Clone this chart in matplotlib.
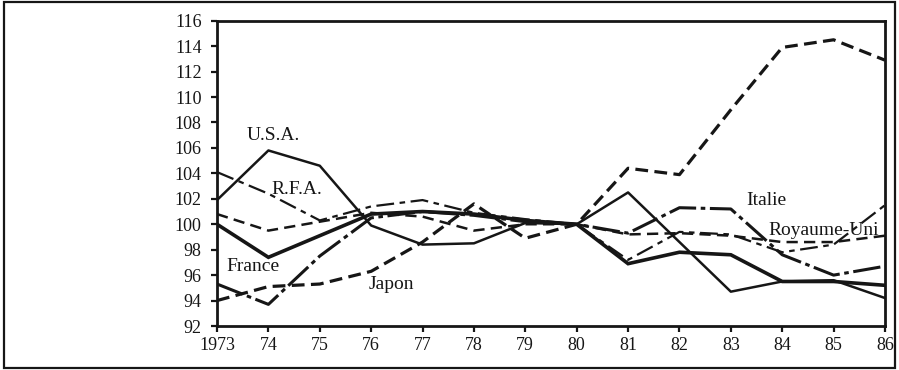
import matplotlib
matplotlib.use('Agg')
import matplotlib.pyplot as plt
from matplotlib.patches import Rectangle

# Indices (base 1980 = 100)
years = list(range(1973, 1987))
year_labels = ['1973', '74', '75', '76', '77', '78', '79', '80',
               '81', '82', '83', '84', '85', '86']

france = [100.0, 97.4, 99.1, 100.8, 101.0, 100.8, 100.3, 100.0, 96.9, 97.8, 97.6, 95.5, 95.5, 95.2]
usa = [101.9, 105.8, 104.6, 99.9, 98.4, 98.5, 100.1, 100.0, 102.5, 98.6, 94.7, 95.5, 95.6, 94.2]
japon = [94.0, 95.1, 95.3, 96.3, 98.6, 101.6, 98.9, 100.0, 104.4, 103.9, 109.0, 113.9, 114.5, 112.9]
rfa = [104.1, 102.4, 100.3, 101.4, 101.9, 100.9, 100.4, 100.0, 97.2, 99.4, 99.2, 97.8, 98.4, 101.5]
italie = [95.3, 93.7, 97.5, 100.5, 101.0, 100.7, 100.2, 100.0, 99.3, 101.3, 101.2, 97.6, 96.0, 96.7]
royaume_uni = [100.8, 99.5, 100.2, 100.9, 100.6, 99.5, 100.0, 100.0, 99.2, 99.3, 99.1, 98.6, 98.6, 99.1]

y_ticks = list(range(92, 117, 2))

ink = '#161616'
plt.rcParams['font.family'] = ['Liberation Serif', 'DejaVu Serif']

fig = plt.figure(figsize=(8.99, 3.70), dpi=100)
ax = fig.add_axes([0.2414, 0.1189, 0.7430, 0.8251])

ax.plot(years, france, color=ink, lw=2.6, solid_joinstyle='miter')
ax.plot(years, usa, color=ink, lw=1.8)
ax.plot(years, japon, color=ink, lw=2.3, dashes=(4, 2))
ax.plot(years, rfa, color=ink, lw=1.6, dashes=(8, 2.5, 2.5, 2.5))
ax.plot(years, italie, color=ink, lw=2.2, dashes=(9, 1.5, 1.5, 1.5))
ax.plot(years, royaume_uni, color=ink, lw=1.8, dashes=(4.5, 2.5))

# country labels placed beside their curves
lab = dict(fontsize=14, color=ink, ha='center', va='center')
ax.text(1974.1, 107.0, 'U.S.A.', **lab)
ax.text(1974.55, 102.7, 'R.F.A.', **lab)
ax.text(1973.7, 96.7, 'France', **lab)
ax.text(1976.4, 95.3, 'Japon', **lab)
ax.text(1983.7, 101.9, 'Italie', **lab)
ax.text(1984.8, 99.5, 'Royaume-Uni', **lab)

ax.set_xlim(1973, 1986)
ax.set_ylim(92, 116)
ax.set_xticks(years)
ax.set_xticklabels(year_labels)
ax.set_yticks(y_ticks)
ax.tick_params(axis='both', direction='out', length=4, width=1.6,
               colors=ink, labelsize=13)
ax.tick_params(axis='y', pad=7)
ax.tick_params(axis='x', pad=4)
for side in ax.spines.values():
    side.set_linewidth(2.0)
    side.set_color(ink)

# frame around the whole scanned figure
fig.add_artist(Rectangle((0.004, 0.006), 0.992, 0.989, transform=fig.transFigure,
                         fill=False, lw=1.6, edgecolor=ink))

fig.savefig('out.png', dpi=100)
